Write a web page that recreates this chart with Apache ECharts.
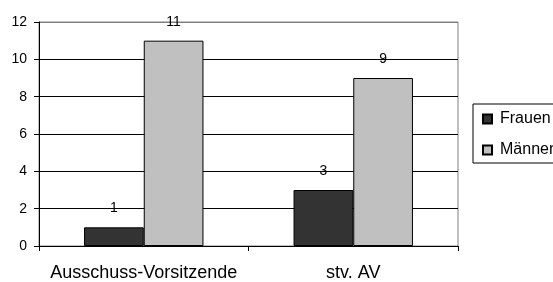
<!DOCTYPE html>
<html>
<head>
<meta charset="utf-8">
<script src="https://cdn.jsdelivr.net/npm/echarts@6/dist/echarts.min.js"></script>
<style>
  html, body { margin: 0; padding: 0; background: #fff; }
  #chart { width: 553px; height: 282px; }
</style>
</head>
<body>
<div id="chart"></div>
<script>
// Daten
var categories = ["Ausschuss-Vorsitzende", "stv. AV"];
var frauen = [1, 3];
var maenner = [11, 9];
var seriesNames = ["Frauen", "Männer"];

var chart = echarts.init(document.getElementById("chart"));
var font = "Liberation Sans, Arial, sans-serif";

var barLabel = {
  show: true,
  position: "top",
  distance: 12,
  color: "#000",
  fontFamily: font,
  fontSize: 14
};

var option = {
  animation: false,
  grid: {
    left: 39,
    right: 95,
    top: 22,
    bottom: 35,
    show: true,
    borderColor: "#808080",
    borderWidth: 1,
    backgroundColor: "transparent"
  },
  legend: {
    orient: "vertical",
    left: 473,
    top: 104,
    data: seriesNames,
    icon: "rect",
    itemWidth: 9,
    itemHeight: 9,
    itemGap: 15,
    padding: [7, 20, 5, 9],
    borderColor: "#000",
    borderWidth: 1,
    textStyle: {
      color: "#000",
      fontFamily: font,
      fontSize: 16,
      padding: [0, 0, 0, 3]
    }
  },
  xAxis: {
    type: "category",
    data: categories,
    axisLine: { lineStyle: { color: "#000", width: 1 } },
    axisTick: { show: true, length: 5, lineStyle: { color: "#000" } },
    axisLabel: {
      interval: 0,
      color: "#000",
      fontFamily: font,
      fontSize: 18,
      margin: 18
    }
  },
  yAxis: {
    type: "value",
    min: 0,
    max: 12,
    interval: 2,
    axisLine: { show: true, lineStyle: { color: "#000", width: 1 } },
    axisTick: { show: true, length: 5, lineStyle: { color: "#000" } },
    axisLabel: {
      color: "#000",
      fontFamily: font,
      fontSize: 14,
      margin: 12
    },
    splitLine: {
      show: true,
      lineStyle: {
        color: ["#000", "#000", "#000", "#000", "#000", "#000", "#808080"],
        width: 1
      }
    }
  },
  series: [
    {
      name: seriesNames[0],
      type: "bar",
      data: frauen,
      barGap: "0%",
      barCategoryGap: "43%",
      itemStyle: { color: "#333333", borderColor: "#000", borderWidth: 1 },
      label: barLabel
    },
    {
      name: seriesNames[1],
      type: "bar",
      data: maenner,
      itemStyle: { color: "#c0c0c0", borderColor: "#000", borderWidth: 1 },
      label: barLabel
    }
  ]
};
chart.setOption(option);
</script>
</body>
</html>
